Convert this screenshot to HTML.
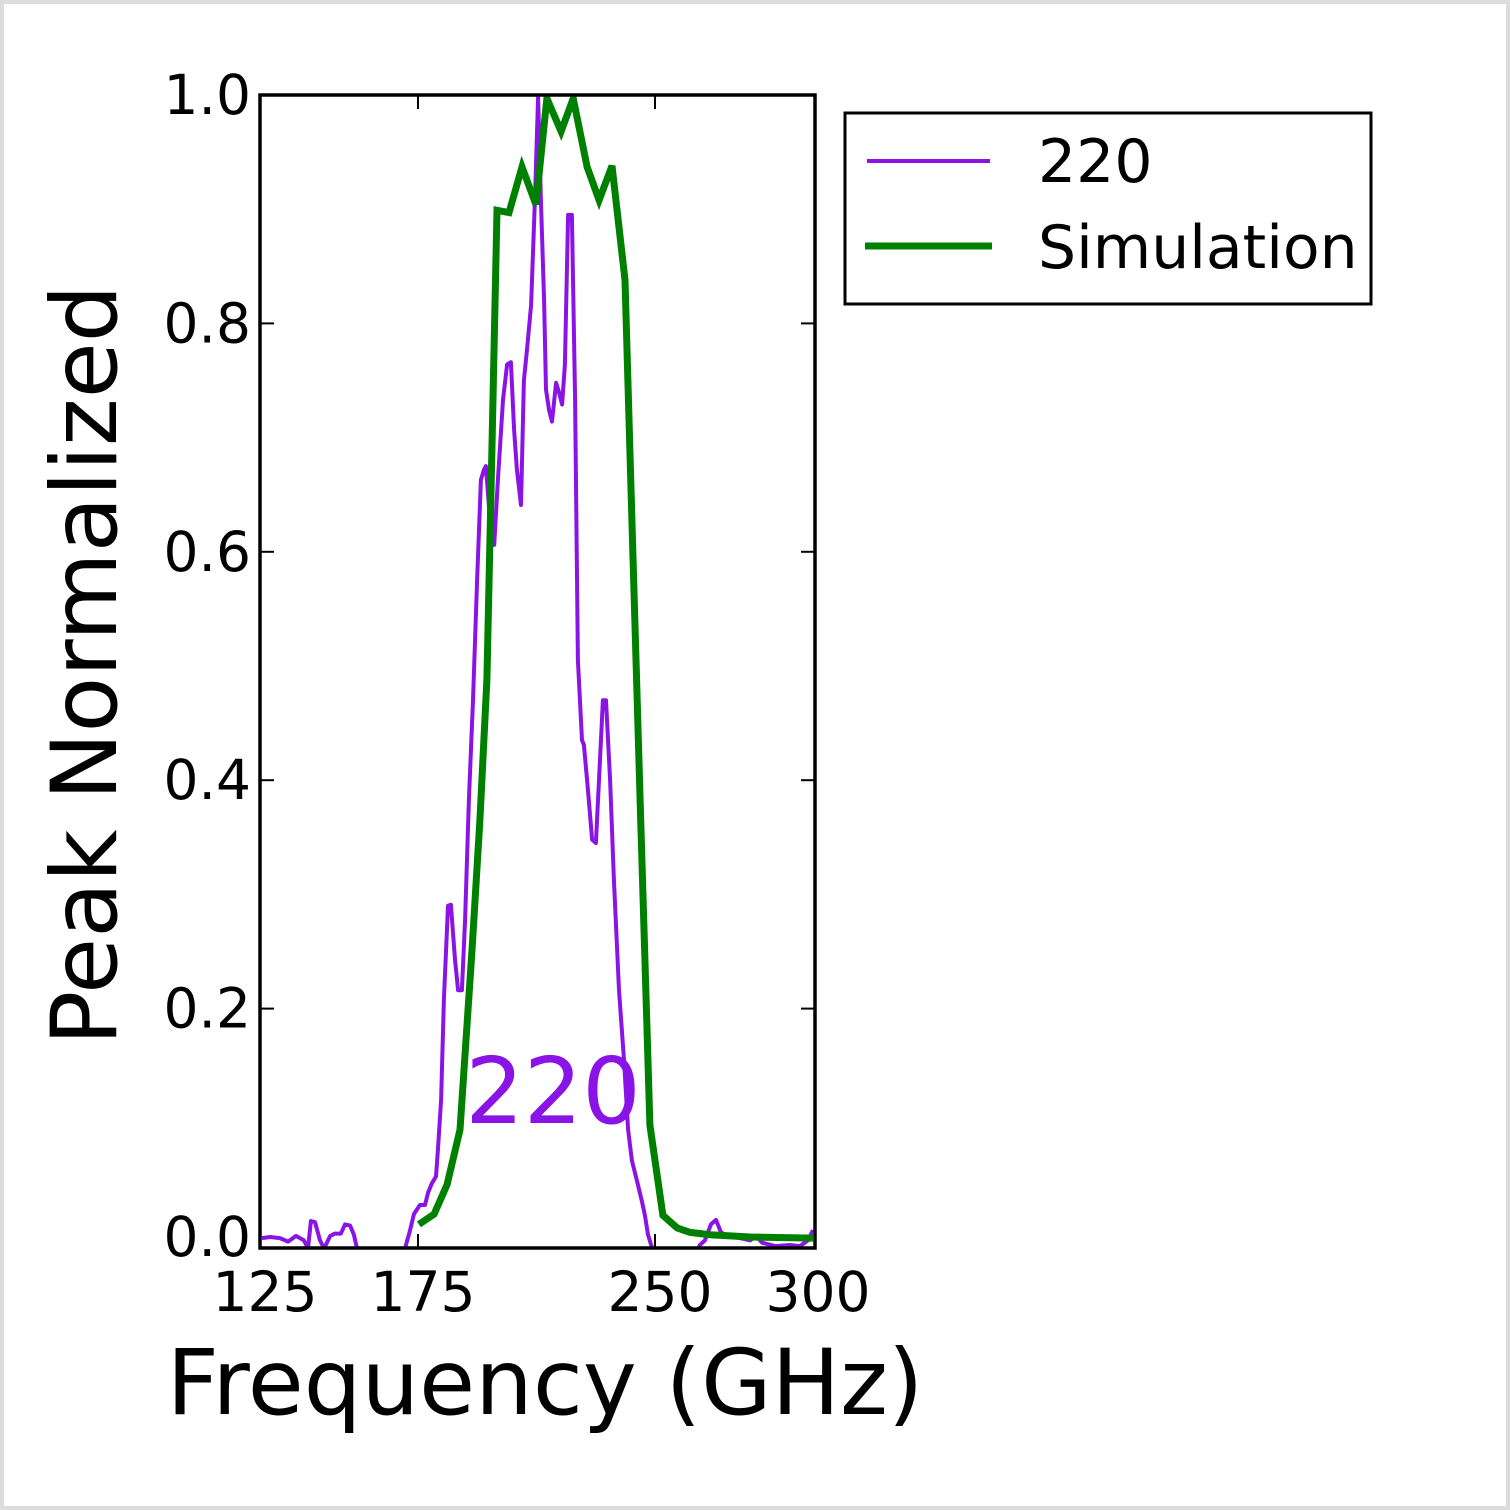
<!DOCTYPE html>
<html><head><meta charset="utf-8"><style>
html,body{margin:0;padding:0;background:#fff}
svg{display:block}
text{font-family:"DejaVu Sans","Liberation Sans",sans-serif}
</style></head><body>
<svg id="chart" width="1510" height="1510" viewBox="0 0 1510 1510">
<rect x="2" y="2" width="1506" height="1506" fill="#fff" stroke="#dcdcdc" stroke-width="4"/>
<defs><clipPath id="clip"><rect x="260" y="95" width="555" height="1153"/></clipPath></defs>
<g id="plot" clip-path="url(#clip)"></g>
<rect x="260" y="95" width="555" height="1153" fill="none" stroke="#000" stroke-width="3.5"/>
<g id="ticks"></g>
<text x="545" y="1414" font-size="91" text-anchor="middle">Frequency (GHz)</text>
<text transform="translate(116,665) rotate(-90)" font-size="91" text-anchor="middle">Peak Normalized</text>
<text x="553" y="1123" font-size="92" fill="#8a14e6" text-anchor="middle">220</text>
<g>
<rect x="845" y="113" width="526" height="191" fill="#fff" stroke="#000" stroke-width="3"/>
<line x1="867" y1="161" x2="990" y2="161" stroke="#8a14e6" stroke-width="4"/>
<text x="1038" y="182" font-size="60">220</text>
<line x1="865" y1="246" x2="992" y2="246" stroke="#008000" stroke-width="7"/>
<text x="1038" y="268" font-size="60">Simulation</text>
</g>
</svg>
<script>
const measFreq=[125.6,128.2,131.3,133.9,136.4,138.9,140.2,141.1,142.4,144.0,145.3,147.2,148.7,150.6,151.9,153.5,154.7,155.7,162,165,170.9,172.5,173.7,175.6,177.2,178.2,179.4,180.7,181.3,182.3,183.2,184.5,185.4,186.7,187.7,188.9,189.9,191.1,192.4,193.7,194.9,195.9,196.5,197.8,199.1,200.3,201.9,203.2,204.4,205.4,206.3,207.6,208.5,209.5,210.8,212.0,213.0,213.9,214.9,215.5,216.5,217.4,218.7,219.6,220.6,221.5,222.5,223.7,224.7,225.6,226.9,227.5,228.8,230.1,231.3,232.6,233.5,234.5,235.8,237.0,238.6,240.2,241.5,242.7,244.3,245.9,246.8,247.8,249.1,255,260,264.2,265.8,267.7,269.3,270.9,273.1,276.9,280.1,282.0,283.9,288.0,292.7,295.9,298.4,300];
const measValue=[-0.001,0,-0.001,-0.004,0.001,-0.003,-0.01,0.014,0.013,-0.003,-0.01,0.001,0.003,0.003,0.011,0.010,0.002,-0.01,-0.03,-0.03,-0.01,0.006,0.020,0.028,0.028,0.039,0.047,0.053,0.076,0.12,0.208,0.29,0.291,0.243,0.216,0.216,0.278,0.383,0.47,0.575,0.663,0.672,0.675,0.628,0.606,0.663,0.733,0.764,0.766,0.707,0.672,0.641,0.75,0.777,0.816,0.908,0.998,0.908,0.82,0.742,0.724,0.714,0.748,0.74,0.729,0.764,0.895,0.895,0.733,0.505,0.435,0.431,0.391,0.348,0.345,0.418,0.47,0.47,0.4,0.313,0.216,0.155,0.094,0.067,0.049,0.031,0.019,0.002,-0.01,-0.03,-0.03,-0.007,-0.003,0.011,0.015,0.004,0.001,-0.001,-0.003,0.001,-0.005,-0.008,-0.007,-0.008,-0.003,0.006];
const simFreq=[175.3,180.1,184.2,188.3,192.1,194.6,196.8,198.4,200.0,203.8,207.9,212.3,215.8,220.3,224.1,228.5,232.3,236.4,240.5,242.7,245.3,248.4,252.5,257.0,261.1,267.4,280.1,300];
const simValue=[0.011,0.020,0.046,0.094,0.251,0.365,0.488,0.689,0.899,0.897,0.937,0.904,0.997,0.968,0.997,0.937,0.908,0.938,0.838,0.628,0.383,0.098,0.019,0.008,0.004,0.002,0,-0.001];
const xTicks=[125,175,250,300];
const xTickLabels=["125","175","250","300"];
const yTicks=[0,0.2,0.4,0.6,0.8,1.0];
const yTickLabels=["0.0","0.2","0.4","0.6","0.8","1.0"];

const NS="http://www.w3.org/2000/svg";
function xs(f){return 260+(f-125)*3.16;}
function ys(v){return 1237-1142*v;}
const plot=document.getElementById('plot');
const ticks=document.getElementById('ticks');
function mk(tag,attrs,parent){const e=document.createElementNS(NS,tag);for(const k in attrs)e.setAttribute(k,attrs[k]);parent.appendChild(e);return e;}
function poly(fx,vy){return fx.map((f,i)=>xs(f).toFixed(1)+','+ys(vy[i]).toFixed(1)).join(' ');}
const pm=mk('polyline',{points:poly(measFreq,measValue),fill:'none',stroke:'#8a14e6','stroke-width':4,'stroke-linejoin':'round'},plot);


const ps=mk('polyline',{points:poly(simFreq,simValue),fill:'none',stroke:'#008000','stroke-width':7,'stroke-linejoin':'miter'},plot);


xTicks.forEach((t,i)=>{
  const x=xs(t);
  if(t>125&&t<300){
    const a=mk('line',{x1:x,y1:95,x2:x,y2:109,stroke:'#000','stroke-width':2},ticks);
    
    
    const b=mk('line',{x1:x,y1:1248,x2:x,y2:1234,stroke:'#000','stroke-width':2},ticks);
    
    
  }
  const tx=mk('text',{x:x+5,y:1311,'font-size':55,'text-anchor':'middle'},ticks);
  tx.textContent=xTickLabels[i];
  
  
});
yTicks.forEach((t,i)=>{
  const y=ys(t);
  if(t>0&&t<1){
    const a=mk('line',{x1:260,y1:y,x2:274,y2:y,stroke:'#000','stroke-width':2},ticks);
    
    
    const b=mk('line',{x1:815,y1:y,x2:801,y2:y,stroke:'#000','stroke-width':2},ticks);
    
    
  }
  const ty=mk('text',{x:251,y:y+19,'font-size':55,'text-anchor':'end'},ticks);
  ty.textContent=yTickLabels[i];
  
  
});
</script>
</body></html>
